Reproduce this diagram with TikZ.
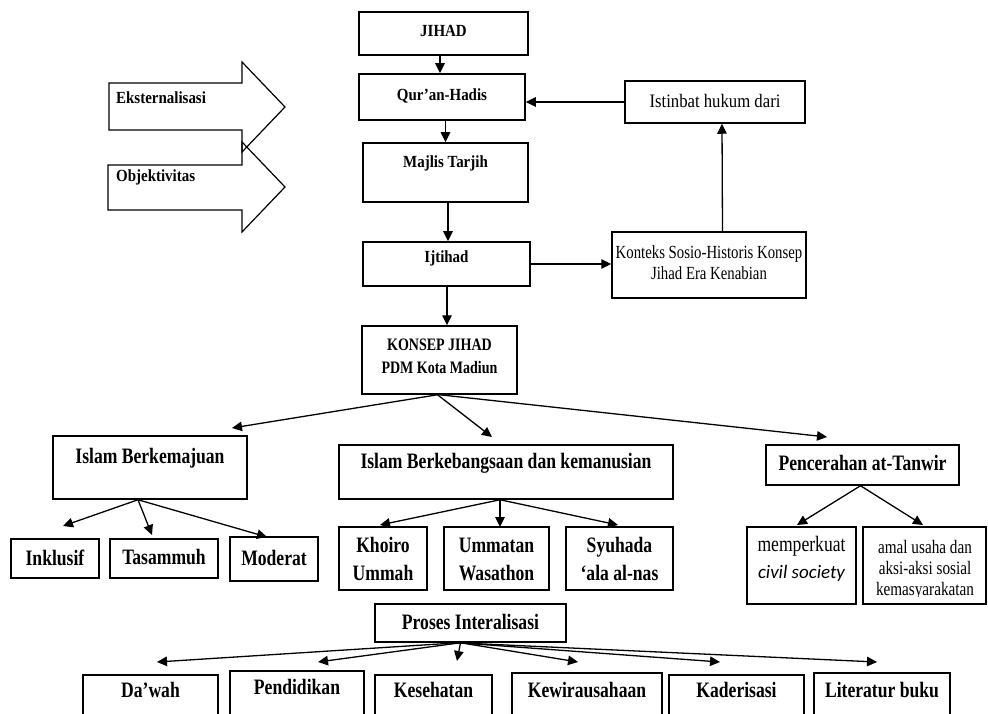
\documentclass[tikz,border=0pt]{standalone}
\usepackage{fontspec}
\setmainfont{Liberation Serif}
\newfontfamily\cnd[FakeStretch=0.8]{Liberation Serif}
\newfontfamily\cndb[FakeStretch=0.88]{Liberation Serif}
\newfontfamily\carl{Carlito}
\usetikzlibrary{arrows.meta,calc}
\newcommand\mkbox[5]{\node[bx,minimum width={#4pt-#2pt},minimum height={#5pt-#3pt}] (#1) at ({(#2+#4)/2},{(#3+#5)/2}) {};}
\begin{document}
\begin{tikzpicture}[x=1pt,y=-1pt,
  bx/.style={draw,line width=1.5pt,inner sep=0pt,fill=none},
  ar/.style={line width=1.3pt,-{Triangle[length=10pt,width=9.5pt]}},
  tx/.style={inner sep=0pt,align=center},
  topf/.style={font=\cndb\fontsize{17}{20}\selectfont\bfseries},
  lowf/.style={font=\cnd\fontsize{22}{28}\selectfont\bfseries},
  blk/.style={line width=1.2pt,line join=miter}
]
\useasboundingbox (0,0) rectangle (988,714);
\clip (0,0) rectangle (988,714);
\fill[white] (0,0) rectangle (988,714);

% boxes
\mkbox{jihad}{359}{12}{528}{55}
\mkbox{quran}{359}{74}{525}{120}
\mkbox{majlis}{363}{143}{528}{202}
\mkbox{ijtihad}{363}{242}{530}{286}
\mkbox{konsep}{362}{326}{517}{394}
\mkbox{istinbat}{625}{81}{805}{123}
\mkbox{konteks}{612}{232}{806}{298}
\mkbox{ib}{53}{436}{247}{499}
\mkbox{ik}{339}{445}{673}{499}
\mkbox{pc}{766}{445}{959}{485}
\mkbox{ink}{11}{539}{99}{578}
\mkbox{tas}{110}{539}{218}{578}
\mkbox{mod}{230}{537}{318}{581}
\mkbox{kho}{339}{527}{427}{590}
\mkbox{umm}{444}{527}{549}{590}
\mkbox{syu}{566}{527}{673}{590}
\mkbox{mem}{747}{527}{856}{604}
\mkbox{ama}{863}{527}{986}{604}
\mkbox{pro}{375}{604}{566}{642}
\mkbox{daw}{83}{675}{218}{740}
\mkbox{pen}{230}{671}{364}{740}
\mkbox{kes}{375}{675}{492}{740}
\mkbox{kew}{512}{673}{662}{740}
\mkbox{kad}{669}{675}{804}{740}
\mkbox{lit}{814}{673}{950}{740}

% block arrows
\draw[blk] (109,83) -- (242,83) -- (242,62) -- (285,107) -- (242,152) -- (242,130) -- (109,130) -- cycle;
\draw[blk] (108,165) -- (242,165) -- (242,142) -- (285,187) -- (242,232) -- (242,210) -- (108,210) -- cycle;
\node[tx,topf,anchor=west] (eks) at (116,98) {Eksternalisasi};
\node[tx,topf,anchor=west] (obj) at (116,177) {Objektivitas};

% top texts
\node[tx,topf] (tjihad) at (443.5,31) {JIHAD};
\node[tx,topf] (tquran) at (442,96) {Qur’an-Hadis};
\node[tx,topf] (tmajlis) at (445.5,163) {Majlis Tarjih};
\node[tx,topf] (tijtihad) at (446.5,258) {Ijtihad};
\node[tx,font=\cnd\fontsize{17.5}{23}\selectfont\bfseries] (tkonsep) at (439.5,356.5) {KONSEP JIHAD\\PDM Kota Madiun};
\node[tx,font=\cndb\fontsize{19}{20}\selectfont] (tistinbat) at (715,101) {Istinbat hukum dari};
\node[tx,font=\cnd\fontsize{18.5}{21}\selectfont] (tkonteks) at (709,262.5) {Konteks Sosio-Historis Konsep\\Jihad Era Kenabian};

% lower texts
\node[tx,lowf] (tib) at (150,458) {Islam Berkemajuan};
\node[tx,lowf] (tik) at (506,463) {Islam Berkebangsaan dan kemanusian};
\node[tx,lowf] (tpc) at (862.5,463) {Pencerahan at-Tanwir};
\node[tx,lowf] (tink) at (55,558) {Inklusif};
\node[tx,lowf] (ttas) at (164,557) {Tasammuh};
\node[tx,lowf] (tmod) at (274,558) {Moderat};
\node[tx,lowf] (tkho) at (383,559) {Khoiro\\Ummah};
\node[tx,lowf] (tumm) at (496.5,559) {Ummatan\\Wasathon};
\node[tx,lowf] (tsyu) at (619.5,559) {Syuhada\\‘ala al-nas};
\node[tx,font=\cnd\fontsize{22}{27}\selectfont] (tmem) at (801.5,558.5) {memperkuat\\{\carl\itshape\fontsize{19}{27}\selectfont civil society}};
\begin{scope}
  \clip (863,527) rectangle (986,596);
  \node[tx,font=\cnd\fontsize{19}{21}\selectfont] (tama) at (925,569.5) {amal usaha dan\\aksi-aksi sosial\\kemasyarakatan};
\end{scope}
\node[tx,lowf] (tpro) at (470.5,622) {Proses Interalisasi};
\node[tx,lowf] (tdaw) at (150.5,690) {Da’wah};
\node[tx,lowf] (tpen) at (297,687) {Pendidikan};
\node[tx,lowf] (tkes) at (433.5,690) {Kesehatan};
\node[tx,lowf] (tkew) at (587,690) {Kewirausahaan};
\node[tx,lowf] (tkad) at (736.5,690) {Kaderisasi};
\node[tx,lowf] (tlit) at (882,690) {Literatur buku};

% vertical chain
\draw[ar] ([xshift=-3.5pt]jihad.south) -- ([xshift=-2pt]quran.north);
\draw[ar] (majlis.north |- quran.south) -- (majlis.north);
\draw[ar] ([xshift=2.5pt]majlis.south) -- ([xshift=2.5pt]majlis.south |- ijtihad.north);
\draw[ar] ([xshift=0.5pt]ijtihad.south) -- ([xshift=0.5pt]ijtihad.south |- konsep.north);
\draw[ar] (istinbat.west) -- (istinbat.west -| quran.east);
\draw[ar] (ijtihad.east) -- (ijtihad.east -| konteks.west);
\draw[ar] ([xshift=13.5pt]konteks.north) -- ([xshift=7pt]istinbat.south);

% fan from konsep
\coordinate (f1) at (232,428);
\coordinate (f2) at (492,437);
\coordinate (f3) at (827,437);
\draw[ar] ([xshift=-2pt]konsep.south) -- (f1);
\draw[ar] ([xshift=-2pt]konsep.south) -- (f2);
\draw[ar] (konsep.south) -- (f3);

% fan from islam berkemajuan
\coordinate (g1) at (63,526);
\coordinate (g2) at (152,535);
\coordinate (g3) at (267,537);
\draw[ar] ([xshift=-12pt]ib.south) -- (g1);
\draw[ar] ([xshift=-12pt]ib.south) -- (g2);
\draw[ar] ([xshift=-12pt]ib.south) -- (g3);

% fan from berkebangsaan
\coordinate (h1) at (380,525);
\coordinate (h2) at (500,527);
\coordinate (h3) at (618,525);
\draw[ar] ([xshift=-6pt]ik.south) -- (h1);
\draw[ar] ([xshift=-6pt]ik.south) -- (h2);
\draw[ar] ([xshift=-6pt]ik.south) -- (h3);

% fan from pencerahan
\coordinate (k1) at (797,525);
\coordinate (k2) at (923,525);
\draw[ar] ([xshift=-2pt]pc.south) -- (k1);
\draw[ar] ([xshift=-2pt]pc.south) -- (k2);

% fan from proses
\coordinate (p1) at (157,662);
\coordinate (p2) at (318,662);
\coordinate (p3) at (457,661);
\coordinate (p4) at (578,662);
\coordinate (p5) at (720,662);
\coordinate (p6) at (877,662);
\draw[ar] ([xshift=-12pt]pro.south) -- (p1);
\draw[ar] ([xshift=-10pt]pro.south) -- (p2);
\draw[ar] ([xshift=-10pt]pro.south) -- (p3);
\draw[ar] ([xshift=-10pt]pro.south) -- (p4);
\draw[ar] ([xshift=-12pt]pro.south) -- (p5);
\draw[ar] ([xshift=-14pt]pro.south) -- (p6);
\end{tikzpicture}
\end{document}
